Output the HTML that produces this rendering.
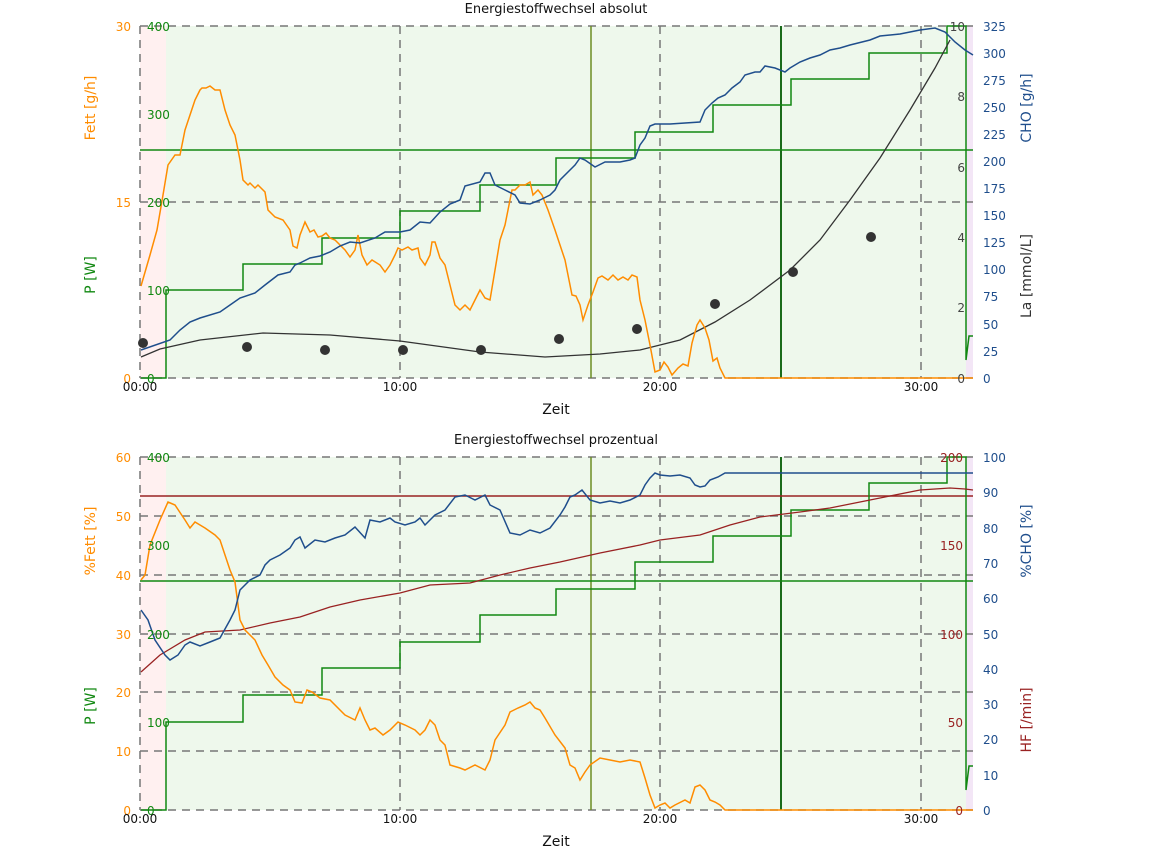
<!DOCTYPE html>
<html><head><meta charset="utf-8"><style>
body{margin:0;background:#fff;}
svg{display:block;font-family:"DejaVu Sans","Liberation Sans",sans-serif;}
</style></head><body>
<svg width="1152" height="853" viewBox="0 0 1152 853" xmlns="http://www.w3.org/2000/svg">
<!-- ===== TOP CHART ===== -->
<rect x="140" y="26" width="26" height="352" fill="#fff0f0"/>
<rect x="166" y="26" width="800" height="352" fill="#eef8ec"/>
<rect x="966" y="26" width="7" height="352" fill="#f3e6f6"/>
<g stroke="#777" stroke-width="1.5" stroke-dasharray="8,6" fill="none">
<line x1="140" y1="26" x2="973" y2="26"/><line x1="140" y1="202" x2="973" y2="202"/><line x1="140" y1="378" x2="973" y2="378"/>
<line x1="140" y1="26" x2="140" y2="378"/><line x1="400" y1="26" x2="400" y2="378"/><line x1="660" y1="26" x2="660" y2="378"/><line x1="921" y1="26" x2="921" y2="378"/>
</g>
<line x1="591" y1="26" x2="591" y2="378" stroke="#6b8e23" stroke-width="1.5"/>
<line x1="781" y1="26" x2="781" y2="378" stroke="#1a6b1a" stroke-width="2"/>
<line x1="140" y1="150" x2="973" y2="150" stroke="#118811" stroke-width="1.5"/>
<polyline fill="none" stroke="#118811" stroke-width="1.5" points="141,378 166,378 166,290 243,290 243,264 322,264 322,238 400,238 400,211 480,211 480,185 556,185 556,158 635,158 635,132 713,132 713,105 791,105 791,79 869,79 869,53 947,53 947,26 966,26 966,360 969,336 973,336"/>
<polyline fill="none" stroke="#333" stroke-width="1.3" points="141,357 160,349 200,340 263,333 330,335 400,341 480,352 545,357 600,354 640,350 680,340 715,322 750,300 790,270 820,240 850,200 880,158 910,110 935,68 950,40"/>
<g fill="#333"><circle cx="143" cy="343" r="5"/><circle cx="247" cy="347" r="5"/><circle cx="325" cy="350" r="5"/><circle cx="403" cy="350" r="5"/><circle cx="481" cy="350" r="5"/><circle cx="559" cy="339" r="5"/><circle cx="637" cy="329" r="5"/><circle cx="715" cy="304" r="5"/><circle cx="793" cy="272" r="5"/><circle cx="871" cy="237" r="5"/></g>
<polyline fill="none" stroke="#ff8c00" stroke-width="1.5" points="141,286 150,255 157,230 163,195 168,165 175,155 180,155 185,130 190,115 195,100 200,90 202,88 206,88 210,86 215,90 220,90 225,110 230,125 235,135 240,160 243,180 248,185 250,183 255,188 258,185 265,192 268,210 275,217 283,220 290,230 293,246 297,248 300,235 305,222 310,232 314,230 318,237 322,236 326,233 330,238 335,240 345,250 350,257 355,250 358,235 362,255 367,265 372,260 380,265 385,272 390,265 395,255 398,248 402,250 408,247 412,250 418,248 420,258 425,265 430,255 432,242 435,242 440,258 445,265 450,285 455,305 460,310 465,305 470,310 475,300 480,290 485,298 490,300 495,270 500,240 505,225 508,210 512,190 515,190 520,185 525,185 530,182 533,195 538,190 542,195 548,210 555,230 560,245 565,260 568,275 572,295 576,296 580,305 583,320 588,305 593,292 598,278 602,276 608,280 613,275 618,280 623,277 628,280 632,275 637,277 640,300 645,320 650,345 655,372 660,370 664,362 668,367 672,375 678,368 683,364 688,366 692,343 697,325 700,320 705,328 709,340 713,361 717,358 720,368 725,378 973,378"/>
<polyline fill="none" stroke="#1f4e8c" stroke-width="1.5" points="141,350 170,340 180,330 190,322 200,318 220,312 230,305 240,298 255,293 265,285 278,275 290,272 295,265 300,263 310,258 320,256 330,252 340,246 350,242 360,243 375,238 385,232 400,232 410,230 420,222 430,223 440,212 450,204 460,200 465,186 480,182 485,173 490,173 495,185 505,190 515,195 520,203 530,204 540,200 550,195 555,190 560,180 570,170 575,165 580,158 585,160 595,167 605,162 620,162 630,160 635,158 640,145 645,138 650,126 655,124 670,124 700,122 705,110 712,103 718,98 725,95 732,88 740,82 745,75 755,72 760,72 765,66 775,68 785,72 790,68 800,62 810,58 820,55 830,50 840,48 850,45 870,40 880,36 900,34 920,30 935,28 945,32 955,42 965,50 973,55"/>
<text x="556" y="13" font-size="13" text-anchor="middle" fill="#111">Energiestoffwechsel absolut</text>
<g font-size="12" fill="#ff8c00" text-anchor="end"><text x="131" y="31">30</text><text x="131" y="207">15</text><text x="131" y="383">0</text></g>
<g font-size="12" fill="#118811"><text x="147" y="31">400</text><text x="147" y="119">300</text><text x="147" y="207">200</text><text x="147" y="295">100</text><text x="147" y="383">0</text></g>
<g font-size="12" fill="#444" text-anchor="end"><text x="965" y="31">10</text><text x="965" y="101">8</text><text x="965" y="172">6</text><text x="965" y="242">4</text><text x="965" y="312">2</text><text x="965" y="383">0</text></g>
<g font-size="12" fill="#1f4e8c"><text x="983" y="31">325</text><text x="983" y="58">300</text><text x="983" y="85">275</text><text x="983" y="112">250</text><text x="983" y="139">225</text><text x="983" y="166">200</text><text x="983" y="193">175</text><text x="983" y="220">150</text><text x="983" y="247">125</text><text x="983" y="274">100</text><text x="983" y="301">75</text><text x="983" y="329">50</text><text x="983" y="356">25</text><text x="983" y="383">0</text></g>
<g font-size="12" fill="#111" text-anchor="middle"><text x="140" y="391">00:00</text><text x="400" y="391">10:00</text><text x="660" y="391">20:00</text><text x="921" y="391">30:00</text></g>
<text x="556" y="414" font-size="14" text-anchor="middle" fill="#111">Zeit</text>
<text transform="translate(95,108) rotate(-90)" font-size="14" fill="#ff8c00" text-anchor="middle">Fett [g/h]</text>
<text transform="translate(95,275) rotate(-90)" font-size="14" fill="#118811" text-anchor="middle">P [W]</text>
<text transform="translate(1031,108) rotate(-90)" font-size="14" fill="#1f4e8c" text-anchor="middle">CHO [g/h]</text>
<text transform="translate(1031,276) rotate(-90)" font-size="14" fill="#333" text-anchor="middle">La [mmol/L]</text>

<!-- ===== BOTTOM CHART ===== -->
<rect x="140" y="457" width="26" height="353" fill="#fff0f0"/>
<rect x="166" y="457" width="800" height="353" fill="#eef8ec"/>
<rect x="966" y="457" width="7" height="353" fill="#f3e6f6"/>
<g stroke="#777" stroke-width="1.5" stroke-dasharray="8,6" fill="none">
<line x1="140" y1="457" x2="973" y2="457"/><line x1="140" y1="516" x2="973" y2="516"/><line x1="140" y1="575" x2="973" y2="575"/><line x1="140" y1="634" x2="973" y2="634"/><line x1="140" y1="692" x2="973" y2="692"/><line x1="140" y1="751" x2="973" y2="751"/><line x1="140" y1="810" x2="973" y2="810"/>
<line x1="140" y1="457" x2="140" y2="810"/><line x1="400" y1="457" x2="400" y2="810"/><line x1="660" y1="457" x2="660" y2="810"/><line x1="921" y1="457" x2="921" y2="810"/>
</g>
<line x1="591" y1="457" x2="591" y2="810" stroke="#6b8e23" stroke-width="1.5"/>
<line x1="781" y1="457" x2="781" y2="810" stroke="#1a6b1a" stroke-width="2"/>
<line x1="140" y1="581" x2="973" y2="581" stroke="#118811" stroke-width="1.5"/>
<line x1="140" y1="496" x2="973" y2="496" stroke="#992222" stroke-width="1.5"/>
<polyline fill="none" stroke="#118811" stroke-width="1.5" points="141,810 166,810 166,722 243,722 243,695 322,695 322,668 400,668 400,642 480,642 480,615 556,615 556,589 635,589 635,562 713,562 713,536 791,536 791,510 869,510 869,483 947,483 947,457 966,457 966,790 969,766 973,766"/>
<polyline fill="none" stroke="#992222" stroke-width="1.3" points="141,672 160,655 185,640 205,632 240,630 270,623 300,617 330,607 360,600 400,593 430,585 470,583 500,575 530,568 560,562 600,553 640,545 660,540 700,535 730,525 760,517 800,512 830,508 870,500 920,490 950,488 965,489 973,490"/>
<polyline fill="none" stroke="#ff8c00" stroke-width="1.5" points="141,580 145,575 150,545 160,520 168,502 175,505 185,520 190,528 195,522 200,525 205,528 215,535 220,540 230,570 235,582 240,620 245,630 255,640 262,655 268,665 275,677 283,685 290,690 295,702 302,703 307,690 312,692 320,698 330,700 345,715 355,720 360,708 365,720 370,730 375,728 383,735 390,730 398,722 405,725 415,730 420,735 425,730 430,720 435,725 440,740 445,745 450,765 460,768 465,770 475,765 485,770 490,760 495,740 505,725 510,712 518,708 525,705 530,702 535,708 540,710 545,718 555,735 565,748 570,765 575,768 580,780 585,772 590,765 600,758 610,760 620,762 630,760 640,762 645,778 650,795 655,808 660,805 665,803 670,808 675,805 685,800 690,803 695,787 700,785 705,790 710,800 715,802 720,805 725,810 973,810"/>
<polyline fill="none" stroke="#1f4e8c" stroke-width="1.5" points="141,610 148,620 155,640 165,655 170,660 178,655 185,645 190,642 200,646 210,642 220,638 230,620 235,610 240,590 250,580 260,575 265,565 270,560 280,555 290,548 295,540 300,537 305,548 315,540 325,542 335,538 345,535 355,527 365,538 370,520 380,522 390,518 395,522 405,525 415,522 420,518 425,525 435,515 445,510 455,497 465,495 475,500 485,495 490,505 500,510 510,533 520,535 530,530 540,533 550,528 560,515 565,507 570,497 575,495 582,490 590,500 600,503 610,501 620,503 630,500 640,495 645,485 650,478 655,473 660,475 670,476 680,475 690,478 695,485 700,487 705,486 710,480 718,477 725,473 973,473"/>
<text x="556" y="444" font-size="13" text-anchor="middle" fill="#111">Energiestoffwechsel prozentual</text>
<g font-size="12" fill="#ff8c00" text-anchor="end"><text x="131" y="462">60</text><text x="131" y="521">50</text><text x="131" y="580">40</text><text x="131" y="639">30</text><text x="131" y="697">20</text><text x="131" y="756">10</text><text x="131" y="815">0</text></g>
<g font-size="12" fill="#118811"><text x="147" y="462">400</text><text x="147" y="550">300</text><text x="147" y="639">200</text><text x="147" y="727">100</text><text x="147" y="815">0</text></g>
<g font-size="12" fill="#992222" text-anchor="end"><text x="963" y="462">200</text><text x="963" y="550">150</text><text x="963" y="639">100</text><text x="963" y="727">50</text><text x="963" y="815">0</text></g>
<g font-size="12" fill="#1f4e8c"><text x="983" y="462">100</text><text x="983" y="497">90</text><text x="983" y="533">80</text><text x="983" y="568">70</text><text x="983" y="603">60</text><text x="983" y="639">50</text><text x="983" y="674">40</text><text x="983" y="709">30</text><text x="983" y="744">20</text><text x="983" y="780">10</text><text x="983" y="815">0</text></g>
<g font-size="12" fill="#111" text-anchor="middle"><text x="140" y="823">00:00</text><text x="400" y="823">10:00</text><text x="660" y="823">20:00</text><text x="921" y="823">30:00</text></g>
<text x="556" y="846" font-size="14" text-anchor="middle" fill="#111">Zeit</text>
<text transform="translate(95,541) rotate(-90)" font-size="14" fill="#ff8c00" text-anchor="middle">%Fett [%]</text>
<text transform="translate(95,706) rotate(-90)" font-size="14" fill="#118811" text-anchor="middle">P [W]</text>
<text transform="translate(1031,541) rotate(-90)" font-size="14" fill="#1f4e8c" text-anchor="middle">%CHO [%]</text>
<text transform="translate(1031,720) rotate(-90)" font-size="14" fill="#992222" text-anchor="middle">HF [/min]</text>
</svg>
</body></html>
